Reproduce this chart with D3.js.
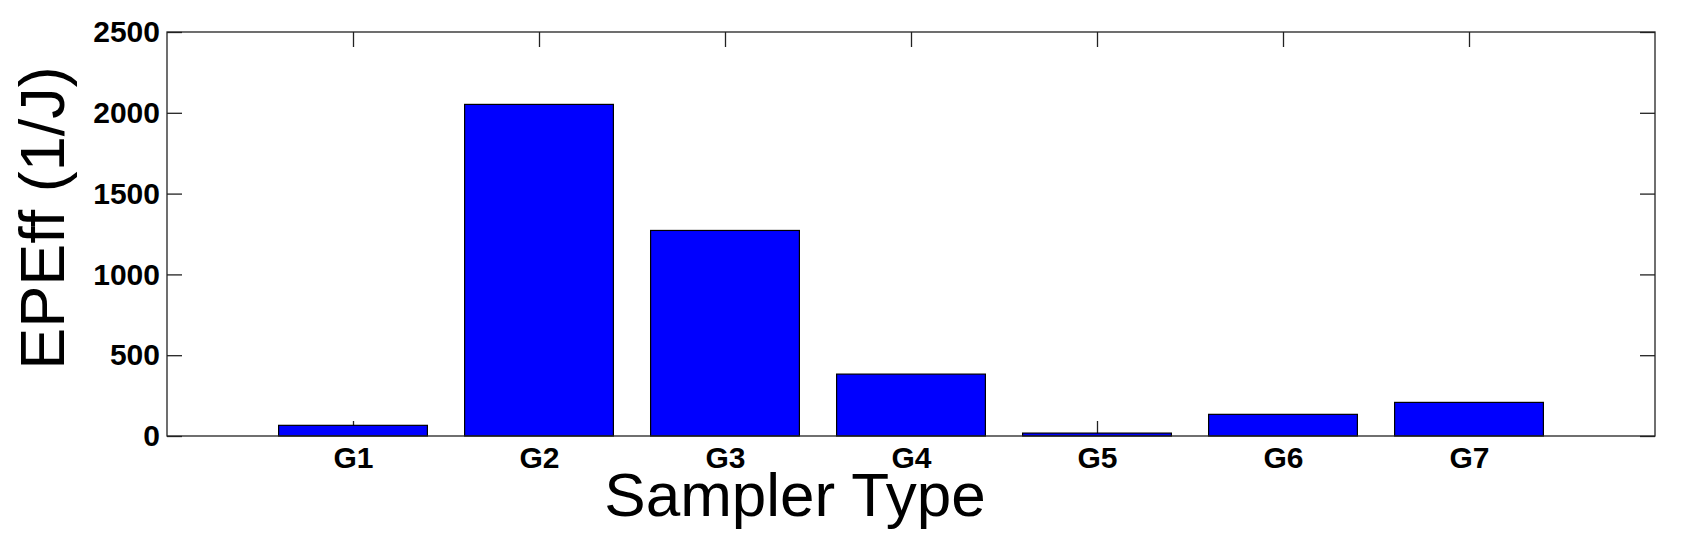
<!DOCTYPE html>
<html>
<head>
<meta charset="utf-8">
<script src="https://cdn.jsdelivr.net/npm/d3@7"></script>
<style>
  body { margin: 0; background: #fff; }
  text { font-family: "Liberation Sans", Arial, sans-serif; }
</style>
</head>
<body>
<div id="chart"></div>
<script>
const categories = ["G1", "G2", "G3", "G4", "G5", "G6", "G7"];
const values = [66, 2052, 1272, 383, 18, 134, 208];
const yTicks = [0, 500, 1000, 1500, 2000, 2500];

const width = 1699;
const height = 546;
const plotLeft = 167, plotRight = 1655, plotTop = 32, plotBottom = 436;
const tickLen = 15;

const svg = d3.select("#chart").append("svg")
  .attr("width", width)
  .attr("height", height);

const x = d3.scaleLinear().domain([0, categories.length + 1]).range([plotLeft, plotRight]);
const y = d3.scaleLinear().domain([0, 2500]).range([plotBottom, plotTop]);
const barW = x(0.8) - x(0);

// axes with inward ticks on all four sides
const yLeft = svg.append("g")
  .attr("transform", `translate(${plotLeft},0)`)
  .call(d3.axisLeft(y).tickValues(yTicks).tickFormat(d3.format("d"))
    .tickSizeInner(-tickLen).tickSizeOuter(0).tickPadding(7));
yLeft.selectAll("text").style("font-size", "30px").style("font-weight", "bold").attr("fill", "#000");

svg.append("g")
  .attr("transform", `translate(${plotRight},0)`)
  .call(d3.axisRight(y).tickValues(yTicks).tickSizeInner(-tickLen).tickSizeOuter(0).tickFormat(""));

const xBottom = svg.append("g")
  .attr("transform", `translate(0,${plotBottom})`)
  .call(d3.axisBottom(x).tickValues(d3.range(1, categories.length + 1))
    .tickFormat((d) => categories[d - 1]).tickSizeInner(-tickLen).tickSizeOuter(0).tickPadding(11));
xBottom.selectAll("text").style("font-size", "30px").style("font-weight", "bold").attr("fill", "#000");

svg.append("g")
  .attr("transform", `translate(0,${plotTop})`)
  .call(d3.axisTop(x).tickValues(d3.range(1, categories.length + 1)).tickSizeInner(-tickLen).tickSizeOuter(0).tickFormat(""));

svg.selectAll(".domain").remove();
svg.selectAll(".tick line").attr("stroke", "#222").attr("stroke-width", 1.3);

// bars
svg.append("g").selectAll("rect").data(values).enter().append("rect")
  .attr("x", (d, i) => x(i + 1) - barW / 2)
  .attr("y", (d) => y(d))
  .attr("width", barW)
  .attr("height", (d) => y(0) - y(d))
  .style("fill", "#0000ff")
  .style("stroke", "#000")
  .style("stroke-width", 1.2);

// box
svg.append("rect")
  .attr("x", plotLeft)
  .attr("y", plotTop)
  .attr("width", plotRight - plotLeft)
  .attr("height", plotBottom - plotTop)
  .style("fill", "none")
  .style("stroke", "#222")
  .style("stroke-width", 1.3);

// axis titles
svg.append("text")
  .attr("x", 795)
  .attr("y", 516)
  .attr("text-anchor", "middle")
  .style("font-size", "62px")
  .text("Sampler Type");

svg.append("text")
  .attr("transform", "translate(64,218) rotate(-90)")
  .attr("text-anchor", "middle")
  .style("font-size", "63px")
  .text("EPEff (1/J)");
</script>
</body>
</html>
